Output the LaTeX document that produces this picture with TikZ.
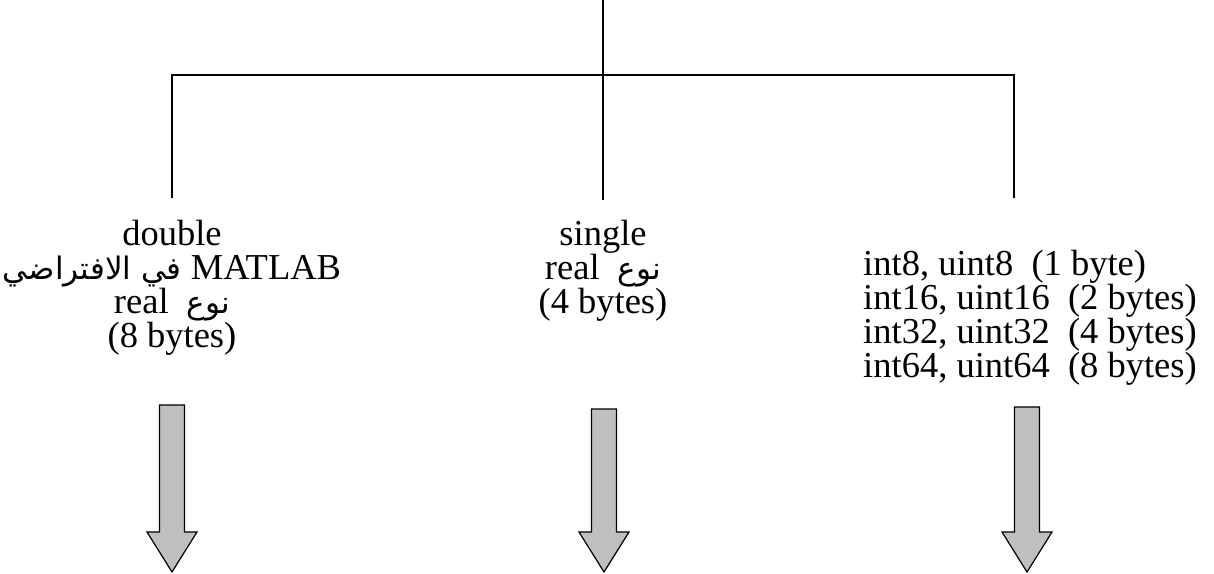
\documentclass[tikz,border=0pt]{standalone}
\usepackage{fontspec}
\setmainfont{Liberation Serif}
\newfontfamily\arabicfont[Script=Arabic]{DejaVu Sans}
\TeXXeTstate=1
\newcommand\arw[1]{{\arabicfont\fontsize{31}{34}\selectfont #1}}
\begin{document}
\begin{tikzpicture}[x=1pt,y=-1pt,
  txt/.style={inner sep=0pt,font=\fontsize{36.5}{34}\selectfont},
  tree/.style={draw=black,line width=1.3pt},
  bigarrow/.style={draw=black,line width=1.2pt,fill=gray!50,line join=miter}]
\useasboundingbox (0,0) rectangle (1214,573);
% texts
\node[txt,align=center,anchor=north] (dbl) at (172,220)
  {double\\ \beginR\beginL MATLAB\endL\ \arw{في الافتراضي}\endR\\
   \beginR\arw{نوع}\ \ \beginL real\endL\endR\\ (8 bytes)};
\node[txt,align=center,anchor=north] (sgl) at (603,220)
  {single\\ \beginR\arw{نوع}\ \ \beginL real\endL\endR\\ (4 bytes)};
\node[txt,align=left,anchor=north west] (ints) at (863,250)
  {int8, uint8\ \ (1 byte)\\ int16, uint16\ \ (2 bytes)\\ int32, uint32\ \ (4 bytes)\\ int64, uint64\ \ (8 bytes)};
% tree
\coordinate (top) at (603,0);
\coordinate (mid) at (603,75);
\coordinate (jl) at (172,75);
\coordinate (jr) at (1014,75);
\coordinate (el) at (172,198);
\coordinate (ec) at (603,200);
\coordinate (er) at (1014,198);
\draw[tree] (top) -- (ec);
\draw[tree] (el) -- (jl) -- (jr) -- (er);
% arrows
\newcommand\grayarrow[2]{%
  \draw[bigarrow] (#1-12.5,#2) -- (#1+12.5,#2) -- (#1+12.5,532) -- (#1+25,532)
    -- (#1,572) -- (#1-25,532) -- (#1-12.5,532) -- cycle;}
\grayarrow{172}{405}
\grayarrow{604}{409}
\grayarrow{1027}{407}
\end{tikzpicture}
\end{document}
